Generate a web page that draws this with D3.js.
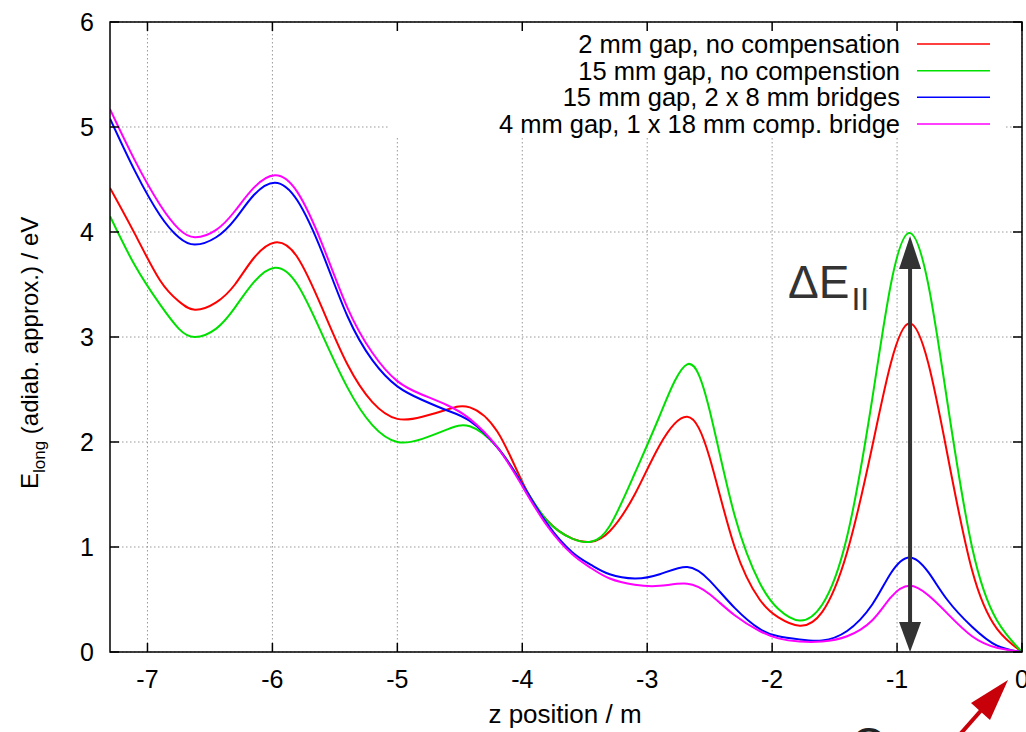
<!DOCTYPE html>
<html><head><meta charset="utf-8">
<script src="https://cdn.jsdelivr.net/npm/d3@7"></script>
<style>body{margin:0;background:#fff}svg{display:block;font-family:"Liberation Sans",Arial,Helvetica,sans-serif}</style>
</head><body>
<svg id="c" width="1026" height="732"></svg>
<script>
const zPos = [-7.3,-7.1,-6.9,-6.75,-6.62,-6.45,-6.3,-6.15,-5.98,-5.8,-5.6,-5.4,-5.2,-5.0,-4.8,-4.6,-4.42,-4.2,-4.0,-3.8,-3.6,-3.45,-3.3,-3.1,-2.9,-2.68,-2.5,-2.3,-2.1,-1.95,-1.78,-1.6,-1.4,-1.2,-1.05,-0.9,-0.75,-0.6,-0.4,-0.2,0];
const gap2NoComp = [4.42,3.98,3.54,3.34,3.26,3.33,3.5,3.75,3.90,3.76,3.27,2.74,2.38,2.22,2.24,2.31,2.33,2.1,1.62,1.25,1.08,1.05,1.15,1.5,1.97,2.24,1.85,1.0,0.5,0.33,0.25,0.38,0.95,1.95,2.75,3.13,2.75,1.9,0.78,0.22,0];
const gap15NoComp = [4.15,3.68,3.31,3.08,3.0,3.08,3.28,3.52,3.66,3.5,3.02,2.52,2.16,2.0,2.03,2.12,2.15,1.95,1.6,1.25,1.08,1.05,1.2,1.7,2.25,2.74,2.3,1.3,0.66,0.41,0.3,0.45,1.1,2.4,3.5,3.99,3.5,2.4,1.0,0.3,0];
const gap15Bridges = [5.08,4.58,4.16,3.95,3.88,3.95,4.12,4.35,4.47,4.3,3.8,3.2,2.78,2.53,2.4,2.3,2.2,1.95,1.6,1.22,0.95,0.83,0.74,0.70,0.74,0.81,0.68,0.42,0.22,0.15,0.12,0.11,0.2,0.45,0.75,0.90,0.76,0.5,0.24,0.06,0];
const gap4Bridge = [5.17,4.68,4.26,4.03,3.95,4.02,4.2,4.42,4.54,4.38,3.88,3.28,2.85,2.58,2.45,2.35,2.22,1.95,1.58,1.2,0.93,0.8,0.7,0.64,0.63,0.65,0.55,0.35,0.2,0.13,0.1,0.1,0.15,0.3,0.52,0.63,0.54,0.37,0.15,0.04,0];
const seriesNames = ["2 mm gap, no compensation","15 mm gap, no compenstion","15 mm gap, 2 x 8 mm bridges","4 mm gap, 1 x 18 mm comp. bridge"];
const seriesColors = ["#ff0000","#00e000","#0000ff","#ff00ff"];
const xTicks = [-7,-6,-5,-4,-3,-2,-1,0];
const yTicks = [0,1,2,3,4,5,6];
const peakZ = -0.9, peakTop = 3.99;

const svg = d3.select("#c");
const L=110,R=1022,T=22,B=652;
const x = d3.scaleLinear().domain([-7.3,0]).range([L,R]);
const y = d3.scaleLinear().domain([0,6]).range([B,T]);

// grid
const g = svg.append("g");
g.selectAll("line.gx").data(xTicks).join("line")
  .attr("x1",d=>x(d)).attr("x2",d=>x(d)).attr("y1",T).attr("y2",B)
  .attr("stroke","#999").attr("stroke-width",1).attr("stroke-dasharray","1.5,2.5");
g.selectAll("line.gy").data(yTicks).join("line")
  .attr("x1",L).attr("x2",R).attr("y1",d=>y(d)).attr("y2",d=>y(d))
  .attr("stroke","#999").attr("stroke-width",1).attr("stroke-dasharray","1.5,2.5");

// legend box (opaque)
svg.append("rect").attr("x",390).attr("y",T+1).attr("width",615).attr("height",114).attr("fill","#fff");

// curves
const all = [gap2NoComp,gap15NoComp,gap15Bridges,gap4Bridge];
const line = d3.line().x((d,i)=>x(zPos[i])).y(d=>y(d)).curve(d3.curveNatural);
svg.append("clipPath").attr("id","pc").append("rect").attr("x",L).attr("y",T).attr("width",R-L).attr("height",B-T);
all.forEach((s,k)=>{
  svg.append("path").attr("d",line(s)).attr("fill","none").attr("stroke",seriesColors[k]).attr("stroke-width",2).attr("clip-path","url(#pc)");
});

// axes with mirrored inward ticks
const ax = svg.append("g").attr("font-size",25).attr("fill","#000");
const tl = 9;
xTicks.forEach(t=>{
  ax.append("line").attr("x1",x(t)).attr("x2",x(t)).attr("y1",B).attr("y2",B-tl).attr("stroke","#000").attr("stroke-width",1.5);
  ax.append("line").attr("x1",x(t)).attr("x2",x(t)).attr("y1",T).attr("y2",T+tl).attr("stroke","#000").attr("stroke-width",1.5);
  ax.append("text").attr("x",x(t)).attr("y",688).attr("text-anchor","middle").text(t);
});
yTicks.forEach(t=>{
  ax.append("line").attr("x1",L).attr("x2",L+tl).attr("y1",y(t)).attr("y2",y(t)).attr("stroke","#000").attr("stroke-width",1.5);
  ax.append("line").attr("x1",R).attr("x2",R-tl).attr("y1",y(t)).attr("y2",y(t)).attr("stroke","#000").attr("stroke-width",1.5);
  ax.append("text").attr("x",94).attr("y",y(t)+9).attr("text-anchor","end").text(t);
});
svg.append("rect").attr("x",L).attr("y",T).attr("width",R-L).attr("height",B-T).attr("fill","none").attr("stroke","#000").attr("stroke-width",1.5);

// axis labels
svg.append("text").attr("x",565).attr("y",723).attr("text-anchor","middle").attr("font-size",26).text("z position / m");
const yl = svg.append("text").attr("transform","translate(38,489) rotate(-90)").attr("text-anchor","start").attr("font-size",24);
yl.append("tspan").text("E");
yl.append("tspan").attr("font-size",17).attr("dy",7).text("long");
yl.append("tspan").attr("dy",-7).text(" (adiab. approx.) / eV");

// legend
const lg = svg.append("g").attr("font-size",25.5);
seriesNames.forEach((n,k)=>{
  const yy = 44 + k*26.67;
  lg.append("text").attr("x",900).attr("y",yy+9).attr("text-anchor","end").text(n);
  lg.append("line").attr("x1",917).attr("x2",990).attr("y1",yy).attr("y2",yy).attr("stroke",seriesColors[k]).attr("stroke-width",1.5);
});

// delta E double arrow
const ac = "#333";
const px = x(peakZ)+0.5, yTop = y(peakTop)+3, yBot = B;
svg.append("line").attr("x1",px).attr("x2",px).attr("y1",yTop+30).attr("y2",yBot-28).attr("stroke",ac).attr("stroke-width",4);
svg.append("path").attr("d",`M${px},${yTop} L${px-11},${yTop+33} L${px+11},${yTop+33} Z`).attr("fill",ac);
svg.append("path").attr("d",`M${px},${yBot} L${px-11},${yBot-30} L${px+11},${yBot-30} Z`).attr("fill",ac);
const dt = svg.append("text").attr("x",788).attr("y",298).attr("font-size",46).attr("fill",ac);
dt.append("tspan").text("ΔE");
dt.append("tspan").attr("font-size",32).attr("dy",12).attr("dx",2).text("II");

// red arrow to origin
const rc = "#c8000a";
svg.append("line").attr("x1",955).attr("y1",740).attr("x2",985).attr("y2",706).attr("stroke",rc).attr("stroke-width",4);
svg.append("path").attr("d","M1008,680 L971,703 L990,720 Z").attr("fill",rc);
// clipped text at the bottom
svg.append("text").attr("x",851).attr("y",760).attr("font-size",46).attr("fill","#222").text("Q");
</script>
</body></html>
